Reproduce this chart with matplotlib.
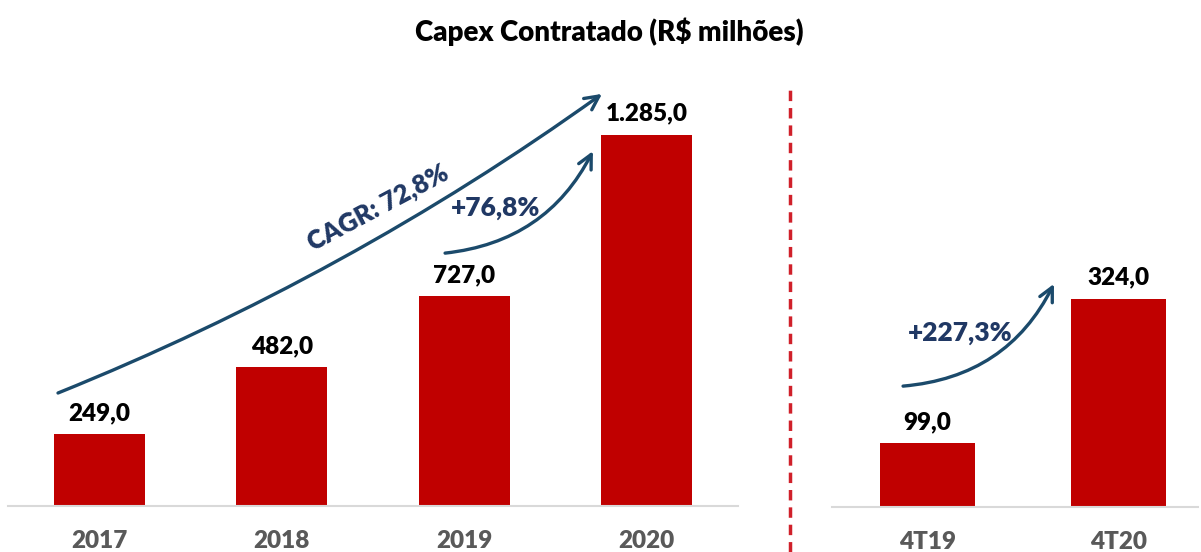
import matplotlib.pyplot as plt
from matplotlib.patches import FancyArrowPatch

plt.rcParams['font.family'] = ['Lato', 'DejaVu Sans']
plt.rcParams['font.weight'] = 'heavy'

years = ["2017", "2018", "2019", "2020"]
capex_years = [249.0, 482.0, 727.0, 1285.0]
quarters = ["4T19", "4T20"]
capex_quarters = [99.0, 324.0]

BAR = "#c00000"
NAVY = "#203864"
ARROW = "#1b4a6b"
GRAY = "#595959"

W, H = 1201, 552
fig = plt.figure(figsize=(W / 100, H / 100), dpi=100)

ax1 = fig.add_axes([8 / W, 46 / H, 730 / W, 446 / H])
ax2 = fig.add_axes([832 / W, 45 / H, 366 / W, 447 / H])


def fmt(v):
    s = f"{v:,.1f}"
    return s.replace(",", "X").replace(".", ",").replace("X", ".")


def style(ax, labels, values, ylim, xlim):
    x = range(len(labels))
    ax.bar(x, values, width=0.5, color=BAR, zorder=2)
    for i, v in zip(x, values):
        ax.annotate(fmt(v), (i, v), xytext=(0, 10), textcoords="offset points",
                    ha="center", va="baseline", fontsize=17.5, color="black")
    ax.set_xticks(list(x))
    ax.set_xticklabels(labels, fontsize=17.5, color=GRAY)
    ax.tick_params(axis="x", length=0, pad=17)
    ax.set_yticks([])
    ax.set_xlim(*xlim)
    ax.set_ylim(0, ylim)
    for s in ["top", "right", "left"]:
        ax.spines[s].set_visible(False)
    ax.spines["bottom"].set_color("#d9d9d9")
    ax.spines["bottom"].set_linewidth(1.5)
    ax.patch.set_alpha(0)


style(ax1, years, capex_years, 446 / 0.289, (-0.5, 3.5))
style(ax2, quarters, capex_quarters, 447 / 0.643, (-0.5, 1.416))


def arrow(ax, start, end, rad):
    p = FancyArrowPatch(start, end, connectionstyle=f"arc3,rad={rad}",
                        arrowstyle="->,head_length=10,head_width=5",
                        color=ARROW, lw=2.4, zorder=3, shrinkA=0, shrinkB=0,
                        capstyle="round", joinstyle="round")
    ax.add_patch(p)


arrow(ax1, (-0.226, 391), (2.755, 1426), 0.06)
arrow(ax1, (1.895, 875), (2.705, 1228), 0.27)
arrow(ax2, (-0.128, 188), (0.662, 347), 0.28)

ax1.text(1.53, 1030, "CAGR: 72,8%", rotation=28, rotation_mode="anchor",
         ha="center", va="center", fontsize=18.5, color=NAVY)
ax1.text(2.17, 1030, "+76,8%", ha="center", va="center", fontsize=19, color=NAVY)
ax2.text(0.17, 270, "+227,3%", ha="center", va="center", fontsize=19, color=NAVY)

fig.add_artist(plt.Line2D([790 / W, 790 / W], [0, 1 - 88 / H], transform=fig.transFigure,
                          color="#d0202a", lw=2.5, linestyle=(0, (3, 2))))

fig.text(609 / W, 1 - 32 / H, r"Capex Contratado (R\$ milhões)", ha="center", va="center",
         fontsize=20, color="black")

fig.savefig("out.png", dpi=100)
